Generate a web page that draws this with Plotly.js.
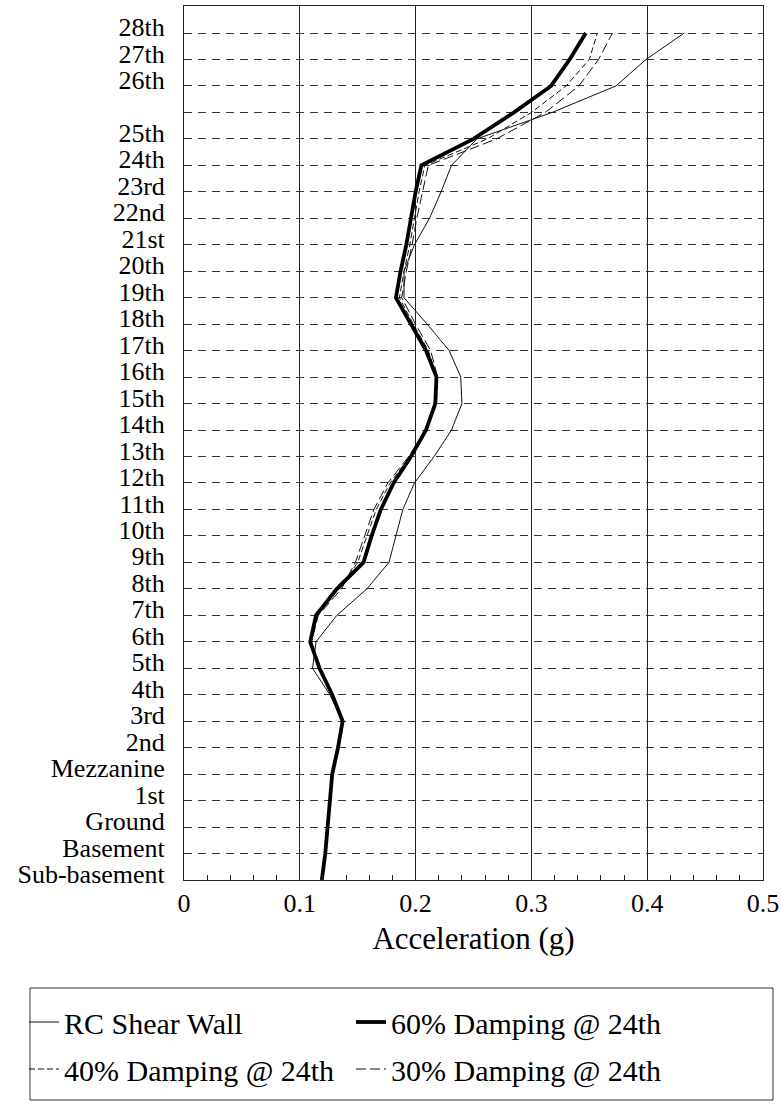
<!DOCTYPE html>
<html>
<head>
<meta charset="utf-8">
<script src="https://cdn.plot.ly/plotly-3.0.1.min.js"></script>
<style>html,body{margin:0;padding:0;background:#fff;}#chart{width:782px;height:1107px;}</style>
</head>
<body>
<div id="chart"></div>
<script>
// Floor levels, bottom to top ("" = unlabeled level between 25th and 26th)
const levels = ["Sub-basement","Basement","Ground","1st","Mezzanine","2nd","3rd","4th","5th","6th",
  "7th","8th","9th","10th","11th","12th","13th","14th","15th","16th","17th","18th","19th","20th",
  "21st","22nd","23rd","24th","25th","","26th","27th","28th"];

// Peak floor acceleration (g), same order as levels
const rcShearWall = [0.119,0.122,0.124,0.126,0.128,0.133,0.137,0.126,0.111,0.114,
  0.132,0.158,0.177,0.183,0.189,0.199,0.216,0.231,0.240,0.239,0.229,0.210,0.190,0.190,
  0.199,0.212,0.222,0.231,0.253,0.318,0.373,0.399,0.432];
const damping60 = [0.119,0.122,0.124,0.126,0.128,0.133,0.137,0.128,0.117,0.109,
  0.114,0.132,0.155,0.162,0.170,0.181,0.196,0.209,0.217,0.218,0.209,0.196,0.183,0.187,
  0.192,0.196,0.200,0.205,0.250,0.285,0.317,0.333,0.347];
const damping40 = [0.119,0.122,0.124,0.126,0.128,0.133,0.137,0.128,0.116,0.110,
  0.115,0.134,0.150,0.158,0.166,0.178,0.195,0.209,0.217,0.218,0.211,0.198,0.186,0.190,
  0.195,0.199,0.203,0.208,0.262,0.300,0.330,0.350,0.357];
const damping30 = [0.119,0.122,0.124,0.126,0.128,0.133,0.137,0.128,0.116,0.110,
  0.116,0.136,0.148,0.156,0.164,0.176,0.194,0.209,0.218,0.219,0.213,0.200,0.188,0.192,
  0.197,0.201,0.206,0.211,0.270,0.312,0.341,0.358,0.370];

const seriesNames = ["RC Shear Wall","40% Damping @ 24th","30% Damping @ 24th","60% Damping @ 24th"];

const yIdx = levels.map((_, i) => i);
const FONT = "'Liberation Serif', 'Times New Roman', serif";

const traces = [
  {x: rcShearWall, y: yIdx, name: seriesNames[0], legend: "legend",
   line: {color: "#111", width: 1}},
  {x: damping40, y: yIdx, name: seriesNames[1], legend: "legend2",
   line: {color: "#111", width: 1, dash: "6px,3px"}},
  {x: damping30, y: yIdx, name: seriesNames[2], legend: "legend2",
   line: {color: "#111", width: 1, dash: "10px,4px"}},
  {x: damping60, y: yIdx, name: seriesNames[3], legend: "legend",
   line: {color: "#000", width: 3.8}}
].map(t => Object.assign({type: "scatter", mode: "lines", hoverinfo: "skip"}, t));

// plot area geometry helpers (for legend / frame placement)
const W = 782, H = 1107, mL = 184, mR = 19, mT = 6, mB = 227;
const pw = W - mL - mR, ph = H - mT - mB;
const px = v => (v - mL) / pw;          // page x -> paper x
const py = v => (H - mB - v) / ph;       // page y -> paper y

const legendCommon = {
  orientation: "h", xanchor: "left", yanchor: "middle",
  font: {family: FONT, size: 30, color: "#000"},
  bgcolor: "rgba(0,0,0,0)", borderwidth: 0,
  entrywidth: 282, entrywidthmode: "pixels", itemwidth: 30
};

const layout = {
  width: W, height: H,
  margin: {l: mL, r: mR, t: mT, b: mB, pad: 0},
  paper_bgcolor: "#fff", plot_bgcolor: "#fff",
  font: {family: FONT, size: 26, color: "#000"},
  showlegend: true,
  xaxis: {
    range: [0, 0.5], dtick: 0.1, tick0: 0,
    showgrid: true, gridcolor: "#222", gridwidth: 1,
    zeroline: false, showline: true, linecolor: "#222", linewidth: 1, mirror: true,
    ticks: "inside", ticklen: 5, tickcolor: "#222",
    minor: {dtick: 0.02, ticks: "inside", ticklen: 5, tickcolor: "#222", showgrid: false},
    tickfont: {family: FONT, size: 26, color: "#000"},
    title: {text: "Acceleration (g)", font: {family: FONT, size: 31, color: "#000"}, standoff: 10}
  },
  yaxis: {
    range: [0, 33.02],
    tickmode: "array", tickvals: yIdx, ticktext: levels,
    showgrid: true, gridcolor: "#333", gridwidth: 1, griddash: "8px,6px",
    zeroline: false, showline: true, linecolor: "#222", linewidth: 1, mirror: true,
    ticks: "", ticklabelshift: -6, ticklabelstandoff: 13,
    tickfont: {family: FONT, size: 26, color: "#000"}
  },
  legend: Object.assign({}, legendCommon, {x: px(24), y: py(1022)}),
  legend2: Object.assign({}, legendCommon, {x: px(24), y: py(1069)}),
  shapes: [{
    type: "rect", xref: "paper", yref: "paper",
    x0: px(30), x1: px(773), y0: py(1100), y1: py(988),
    line: {color: "#333", width: 1}, fillcolor: "rgba(0,0,0,0)"
  }]
};

Plotly.newPlot("chart", traces, layout, {staticPlot: true, displayModeBar: false});
</script>
</body>
</html>
